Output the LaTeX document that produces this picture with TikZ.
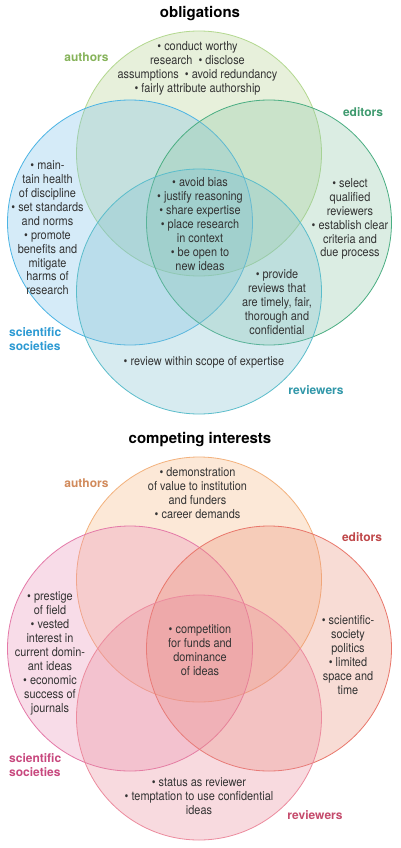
\documentclass[tikz,border=0pt]{standalone}
\usepackage{fontspec}
\setmainfont{TeX Gyre Heros}
\newfontfamily\narrowfont{TeX Gyre Heros}[FakeStretch=0.88]
\usepackage{tikz}
\usetikzlibrary{positioning}

\definecolor{darktext}{HTML}{333333}
% obligations
\definecolor{authAfill}{HTML}{B2D08A}
\definecolor{authAline}{HTML}{B3D88F}
\definecolor{authAtext}{HTML}{86B35A}
\definecolor{socAfill}{HTML}{76BDE8}
\definecolor{socAline}{HTML}{4BB4E4}
\definecolor{socAtext}{HTML}{2C9AD3}
\definecolor{edAfill}{HTML}{8AC6A5}
\definecolor{edAline}{HTML}{4AAE82}
\definecolor{edAtext}{HTML}{3E9A6E}
\definecolor{revAfill}{HTML}{7DBFD0}
\definecolor{revAline}{HTML}{5BBDCB}
\definecolor{revAtext}{HTML}{3097A9}
% competing interests
\definecolor{authBfill}{HTML}{F8B67D}
\definecolor{authBline}{HTML}{F3B17C}
\definecolor{authBtext}{HTML}{D18A5B}
\definecolor{socBfill}{HTML}{EB8EB6}
\definecolor{socBline}{HTML}{E479A8}
\definecolor{socBtext}{HTML}{C8487E}
\definecolor{edBfill}{HTML}{EB8E76}
\definecolor{edBline}{HTML}{E9776B}
\definecolor{edBtext}{HTML}{BF4749}
\definecolor{revBfill}{HTML}{E88798}
\definecolor{revBline}{HTML}{EC8B9E}
\definecolor{revBtext}{HTML}{C54B6C}

\tikzset{
  vennset/.style={circle, draw=#1line, fill=#1fill, fill opacity=0.3,
    line width=0.8pt, minimum size=245pt, inner sep=0pt},
  setname/.style={text=#1text, font=\bfseries\fontsize{12}{14}\selectfont,
    inner sep=0pt},
  items/.style={align=center, text=darktext,
    font=\narrowfont\fontsize{12.4}{13.9}\selectfont, inner sep=0pt},
  heading/.style={font=\bfseries\fontsize{15}{18}\selectfont, inner sep=0pt}
}

\begin{document}
\begin{tikzpicture}[x=1pt, y=-1pt]
\fill[white] (0,0) rectangle (400,848);
\useasboundingbox (0,0) rectangle (400,848);

% obligations
\node[heading] (titleA) at (200,14) {obligations};
\node[vennset=authA] (authA) at (199,153.5) {};
\node[vennset=socA] (socA) at (130,222.5) {};
\node[vennset=edA] (edA) at (269,222.5) {};
\node[vennset=revA] (revA) at (199,291.5) {};

\node[setname=authA] (authAname) at (86.5,57) {authors};
\node[setname=edA] (edAname) at (363,112) {editors};
\node[setname=revA] (revAname) at (316,390) {reviewers};
\node[setname=socA, anchor=west, align=left] (socAname) at (9,339) {scientific\\societies};

\node[items] (authAitems) at (197.5,68) {\textbullet\ conduct worthy\\
  research \ \textbullet\ disclose\\
  assumptions \ \textbullet\ avoid redundancy\\
  \textbullet\ fairly attribute authorship};
\node[items] (socAitems) at (47.5,228) {\textbullet\ main-\\tain health\\of discipline\\
  \textbullet\ set standards\\and norms\\\textbullet\ promote\\benefits and\\mitigate\\
  harms of\\research};
\node[items] (allA) at (200,224) {\textbullet\ avoid bias\\\textbullet\ justify reasoning\\
  \textbullet\ share expertise\\\textbullet\ place research\\in context\\
  \textbullet\ be open to\\new ideas};
\node[items] (edAitems) at (350,219) {\textbullet\ select\\qualified\\reviewers\\
  \textbullet\ establish clear\\criteria and\\due process};
\node[items] (edrevA) at (277,302) {\textbullet\ provide\\reviews that\\
  are timely, fair,\\thorough and\\confidential};
\node[items] (revAitems) at (204,362) {\textbullet\ review within scope of expertise};

% competing interests
\node[heading] (titleB) at (200,439.5) {competing interests};
\node[vennset=authB] (authB) at (199,579.5) {};
\node[vennset=socB] (socB) at (130,648.5) {};
\node[vennset=edB] (edB) at (269,648.5) {};
\node[vennset=revB] (revB) at (199,717.5) {};

\node[setname=authB] (authBname) at (86.5,483) {authors};
\node[setname=edB] (edBname) at (362,537) {editors};
\node[setname=revB] (revBname) at (315,815) {reviewers};
\node[setname=socB, anchor=west, align=left] (socBname) at (9,765) {scientific\\societies};

\node[items] (authBitems) at (197.5,493) {\textbullet\ demonstration\\
  of value to institution\\and funders\\\textbullet\ career demands};
\node[items] (socBitems) at (50,653.5) {\textbullet\ prestige\\of field\\\textbullet\ vested\\
  interest in\\current domin-\\ant ideas\\\textbullet\ economic\\success of\\journals};
\node[items] (allB) at (200,650) {\textbullet\ competition\\for funds and\\dominance\\of ideas};
\node[items] (edBitems) at (348,655) {\textbullet\ scientific-\\society\\politics\\
  \textbullet\ limited\\space and\\time};
\node[items] (revBitems) at (199,796) {\textbullet\ status as reviewer\\
  \textbullet\ temptation to use confidential\\ideas};
\end{tikzpicture}
\end{document}
